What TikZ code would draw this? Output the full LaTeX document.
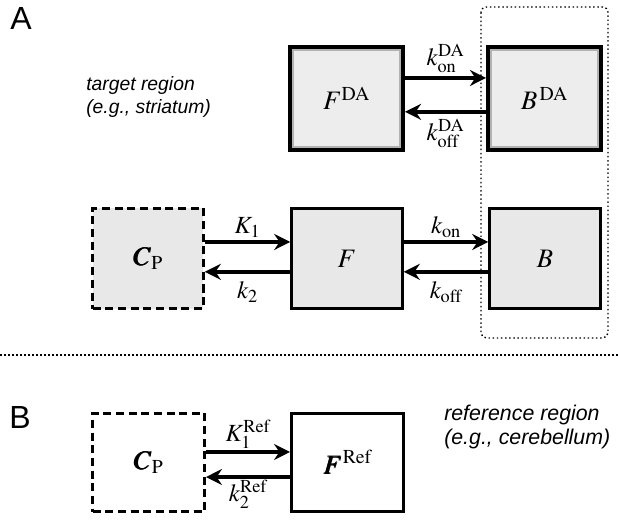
\documentclass[tikz,border=0pt]{standalone}
\usepackage{mathptmx}
\usepackage{bm}
\usepackage[no-math]{fontspec}
\setmainfont{Liberation Sans}
\usetikzlibrary{arrows.meta}

\tikzset{
  box/.style={draw, line width=2.2pt, fill=gray!18, inner sep=0pt,
    minimum width=83pt, minimum height=75pt, font=\fontsize{20}{24}\selectfont},
  dabox/.style={box, line width=2.8pt, fill=gray!14,
    minimum width=85pt, minimum height=77pt,
    path picture={\draw[gray!60, line width=1.6pt]
      ([shift={(2.2pt,-2.2pt)}]path picture bounding box.north west) rectangle
      ([shift={(-2.2pt,2.2pt)}]path picture bounding box.south east);}},
  plasma/.style={dash pattern=on 6pt off 3.5pt},
  refbox/.style={box, fill=white, minimum width=84pt, minimum height=74pt},
  flow/.style={line width=2.6pt, -{Stealth[length=12pt,width=12pt,inset=4pt]}},
  rate/.style={font=\fontsize{18.5}{21}\selectfont, inner sep=1pt},
  region/.style={font=\fontsize{14.5}{17.5}\selectfont\itshape, align=left, inner sep=0pt},
  panel/.style={font=\fontsize{24}{26}\selectfont, inner sep=0pt}
}

\begin{document}
\begin{tikzpicture}[x=0.75pt,y=-0.75pt]
  \useasboundingbox (0,0) rectangle (618,524);

  % panel A, target region
  \node[panel] (pA) at (21,18) {A};
  \node[region, anchor=west] (target) at (86,97) {target region\\(e.g., striatum)};

  \node[dabox] (Fda) at (346.5,98.5) {$F^{\mathrm{DA}}$};
  \node[dabox] (Bda) at (544.5,98.5) {$B^{\,\mathrm{DA}}$};

  \node[box, plasma] (Cp) at (148,258.5) {$\bm{C}_{\mathrm{P}}$};
  \node[box] (F) at (347,258.5) {$F$};
  \node[box] (B) at (545,258.5) {$B$};

  \draw[flow] ([yshift=15.4pt]Fda.east) -- ([yshift=15.4pt]Bda.west)
    node[rate, midway, above=2pt] (konDA) {$k_{\mathrm{on}}^{\mathrm{DA}}$};
  \draw[flow] ([yshift=-10pt]Bda.west) -- ([yshift=-10pt]Fda.east)
    node[rate, midway, below=3pt] (koffDA) {$k_{\mathrm{off}}^{\mathrm{DA}}$};

  \draw[flow] ([yshift=12.4pt]Cp.east) -- ([yshift=12.4pt]F.west)
    node[rate, midway, above=1pt] (K1) {$K_1$};
  \draw[flow] ([yshift=-10pt]F.west) -- ([yshift=-10pt]Cp.east)
    node[rate, midway, below=5pt] (k2) {$k_2$};
  \draw[flow] ([yshift=12.4pt]F.east) -- ([yshift=12.4pt]B.west)
    node[rate, midway, above=1pt] (kon) {$k_{\mathrm{on}}$};
  \draw[flow] ([yshift=-10pt]B.west) -- ([yshift=-10pt]F.east)
    node[rate, midway, below=5pt] (koff) {$k_{\mathrm{off}}$};

  % bound compartments
  \draw[dotted, line width=1.1pt, rounded corners=4pt] (481,7) rectangle (608,338);

  % separator
  \draw[line width=0.8pt, dash pattern=on 1.5pt off 1.5pt] (0,355) -- (618,355);

  % panel B, reference region
  \node[panel] (pB) at (20,417) {B};
  \node[region, anchor=west, font=\fontsize{16}{17.5}\selectfont\itshape]
    (reference) at (444,427) {reference region\\(e.g., cerebellum)};

  \node[refbox, plasma] (Cpref) at (148.5,462.5) {$\bm{C}_{\mathrm{P}}$};
  \node[refbox] (Fref) at (347.5,462.5) {$\bm{F}^{\mathrm{Ref}}$};

  \draw[flow] ([yshift=7.9pt]Cpref.east) -- ([yshift=7.9pt]Fref.west)
    node[rate, midway, above=0pt] (K1ref) {$K_1^{\mathrm{Ref}}$};
  \draw[flow] ([yshift=-10.9pt]Fref.west) -- ([yshift=-10.9pt]Cpref.east)
    node[rate, midway, below=0pt] (k2ref) {$k_2^{\mathrm{Ref}}$};
\end{tikzpicture}
\end{document}
